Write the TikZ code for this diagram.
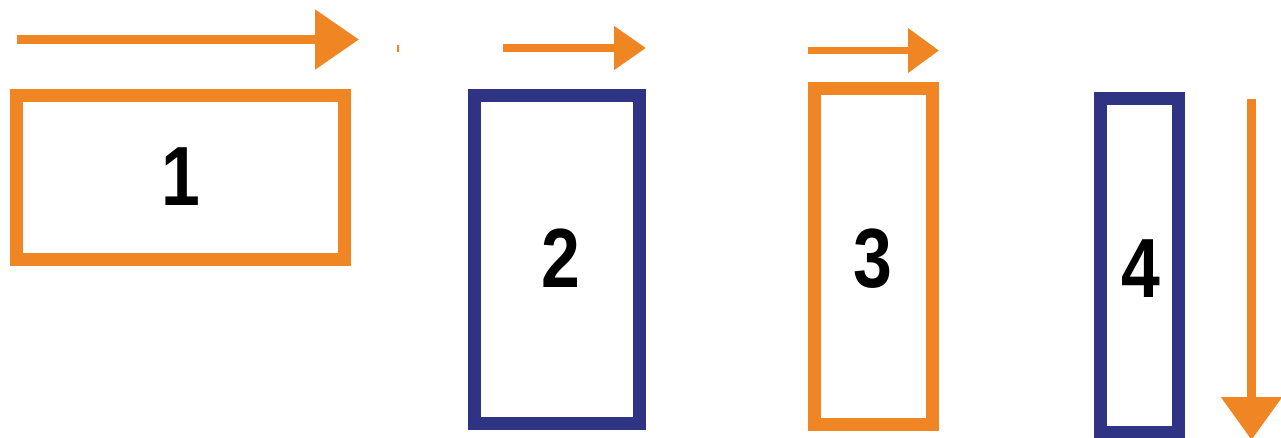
\documentclass[tikz,border=0pt]{standalone}
\usepackage{fontspec}
\usetikzlibrary{arrows.meta}
\newfontfamily\numfont{Liberation Sans}[FakeStretch=0.83]
\definecolor{myorange}{RGB}{240,133,35}
\definecolor{myblue}{RGB}{46,51,132}
\begin{document}
\begin{tikzpicture}[x=1pt,y=-1pt,
  boxo/.style={draw=myorange,line width=13pt,inner sep=0pt,fill=white},
  boxb/.style={draw=myblue,line width=13pt,inner sep=0pt,fill=white},
  digit/.style={inner sep=0pt,font=\numfont\bfseries\fontsize{84}{84}\selectfont},
  arr/.style={draw=myorange}]
\useasboundingbox (0,0) rectangle (1281,437);
% boxes
\node[boxo,minimum width=328pt,minimum height=164pt] (b1) at (180.5,177.5) {};
\node[boxb,minimum width=164.5pt,minimum height=328pt] (b2) at (556.75,259.5) {};
\node[boxo,minimum width=117.5pt,minimum height=335.5pt] (b3) at (873.25,256.25) {};
\node[boxb,minimum width=78.5pt,minimum height=333.5pt] (b4) at (1139.25,265.25) {};
% digits
\node[digit] (d1) at (181,176.5) {1};
\node[digit] (d2) at (561,258) {2};
\node[digit] (d3) at (873,258.5) {3};
\node[digit] (d4) at (1140.5,269) {4};
% arrows
\coordinate (a1s) at (17,39.5);
\coordinate (a1e) at (359,39.5);
\draw[arr,line width=9pt,-{Triangle[length=44pt,width=58pt]}] (a1s) -- (a1e);
\coordinate (t1) at (398,45);
\coordinate (t2) at (398,52);
\draw[arr,line width=1.3pt] (t1) -- (t2);
\coordinate (a2s) at (503,48);
\coordinate (a2e) at (646,48);
\draw[arr,line width=8pt,-{Triangle[length=32pt,width=42pt]}] (a2s) -- (a2e);
\coordinate (a3s) at (808,50.5);
\coordinate (a3e) at (939,50.5);
\draw[arr,line width=7.5pt,-{Triangle[length=31pt,width=43pt]}] (a3s) -- (a3e);
\coordinate (a4s) at (1251.5,99);
\coordinate (a4e) at (1251.5,440);
\draw[arr,line width=9pt,-{Triangle[length=43pt,width=59pt]}] (a4s) -- (a4e);
\end{tikzpicture}
\end{document}
